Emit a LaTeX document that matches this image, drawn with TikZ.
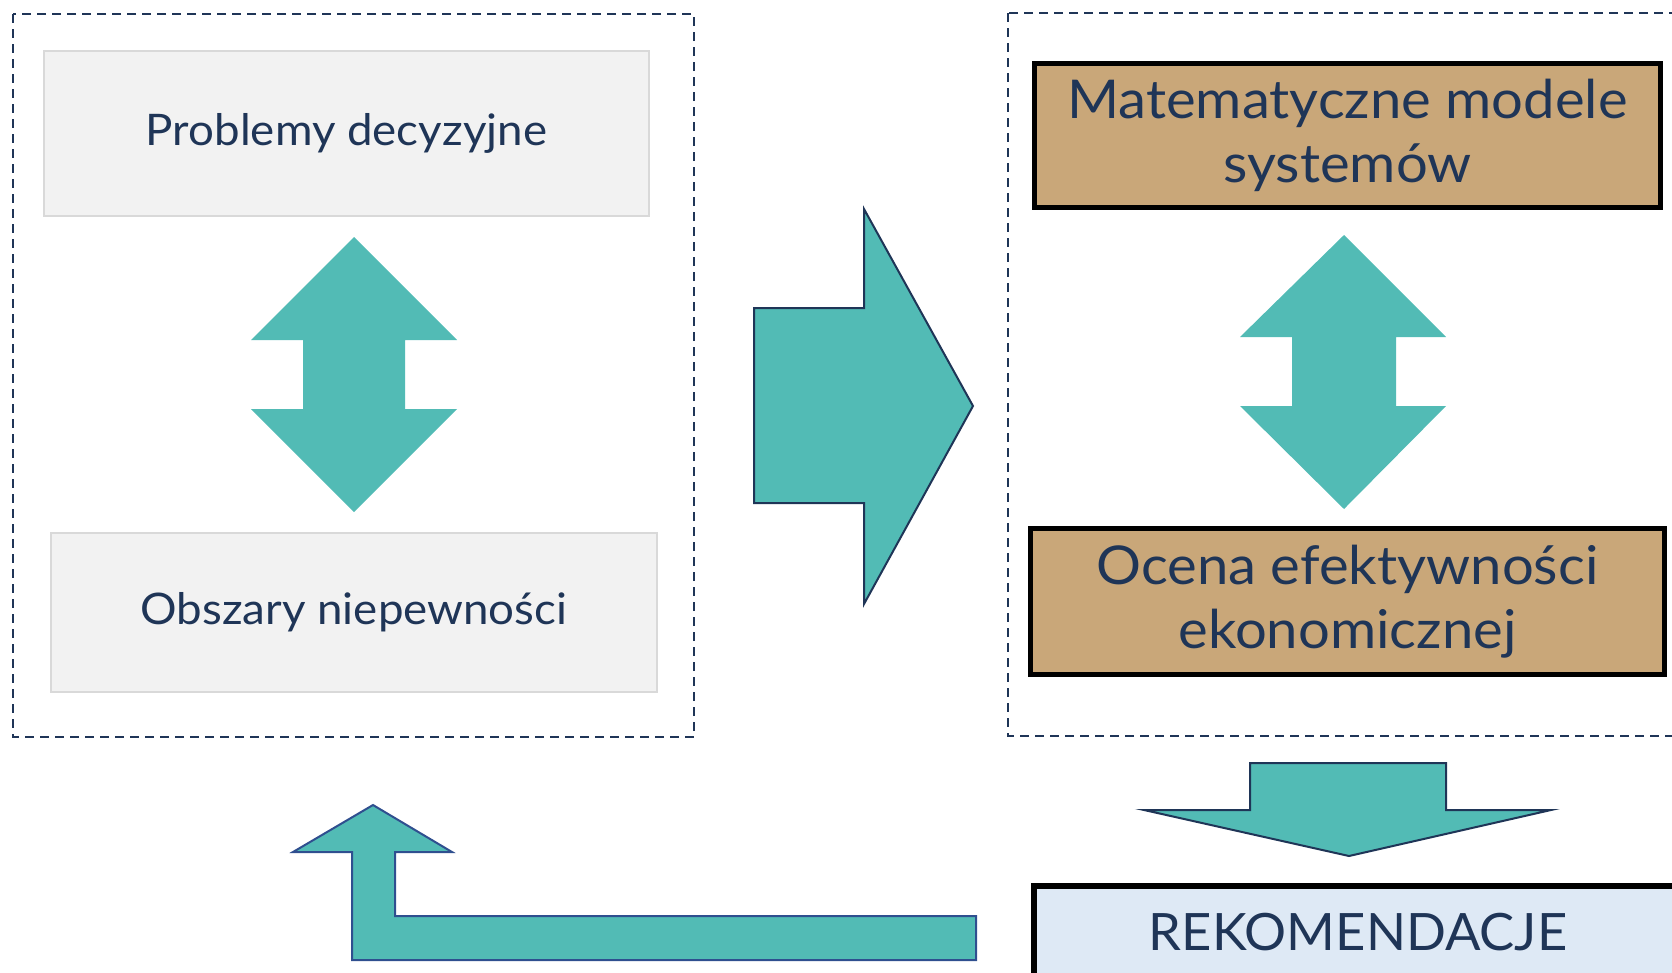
\documentclass[tikz,border=0pt]{standalone}
\usepackage{fontspec}
\setmainfont{Lato}
\newfontfamily\widefont[FakeStretch=1.05]{Lato}
\newfontfamily\capfont[FakeStretch=1.02]{Lato}
\definecolor{navy}{HTML}{1F3557}
\definecolor{teal}{HTML}{52BBB5}
\definecolor{tan}{HTML}{C9A779}
\definecolor{lgray}{HTML}{F2F2F2}
\definecolor{gborder}{HTML}{D9D9D9}
\definecolor{lblue}{HTML}{DEE9F5}
\definecolor{lborder}{HTML}{2F4F8F}
\tikzset{
  group/.style={draw=navy, line width=2.4pt, dash pattern=on 9pt off 6pt},
  graybox/.style={draw=gborder, line width=1.2pt, fill=lgray, text=navy, font=\widefont\fontsize{43.5}{56}\selectfont},
  tanbox/.style={draw=black, line width=5.5pt, fill=tan, text=navy, align=center, font=\widefont\fontsize{53.5}{64}\selectfont},
  recbox/.style={draw=black, line width=5.5pt, fill=lblue, text=navy, font=\capfont\fontsize{51.5}{60}\selectfont},
  bigarrow/.style={fill=teal, draw=navy, line width=2pt, line join=miter},
  dblarrow/.style={fill=teal},
}
\begin{document}
\begin{tikzpicture}[x=1pt,y=-1pt]
\useasboundingbox (0,0) rectangle (1672,972);
\begin{scope}
\clip (0,0) rectangle (1672,972);
% dashed groups
\draw[group] (13,14) rectangle (694,737);
\draw[group] (1008,13) rectangle (1700,736);

% left boxes
\node[graybox, minimum width=605pt, minimum height=165pt] (prob) at (346.5,133.5) {Problemy decyzyjne};
\node[graybox, minimum width=606pt, minimum height=159pt] (obsz) at (354,612.5) {Obszary niepewności};

% right boxes
\node[tanbox, minimum width=626pt, minimum height=144pt] (mat) at (1347.5,135.5) {Matematyczne modele\\systemów};
\node[tanbox, minimum width=634pt, minimum height=146pt] (ocena) at (1347.5,601.5) {Ocena efektywności\\ekonomicznej};
\node[recbox, minimum width=648pt, minimum height=100pt] (rek) at (1358,936) {\raisebox{8pt}{REKOMENDACJE}};

% left double arrow
\fill[dblarrow] (354,237) -- (457,340) -- (405,340) -- (405,409) -- (457,409) -- (354,512)
  -- (251,409) -- (303,409) -- (303,340) -- (251,340) -- cycle;
% right double arrow
\fill[dblarrow] (1344,235) -- (1446,337) -- (1396,337) -- (1396,406) -- (1446,406) -- (1344,509)
  -- (1240,406) -- (1292,406) -- (1292,337) -- (1240,337) -- cycle;

% big right arrow
\draw[bigarrow] (754,308) -- (864,308) -- (864,209) -- (973,406) -- (864,604) -- (864,503) -- (754,503) -- cycle;

% down arrow
\draw[bigarrow] (1250,763) -- (1446,763) -- (1446,810) -- (1551,810) -- (1349,856) -- (1144,810) -- (1250,810) -- cycle;

% L-shaped return arrow
\draw[bigarrow, draw=lborder] (976,916) -- (395,916) -- (395,852) -- (452,852) -- (373,805) -- (293,852) -- (352,852) -- (352,960) -- (976,960) -- cycle;
\end{scope}
\end{tikzpicture}
\end{document}
